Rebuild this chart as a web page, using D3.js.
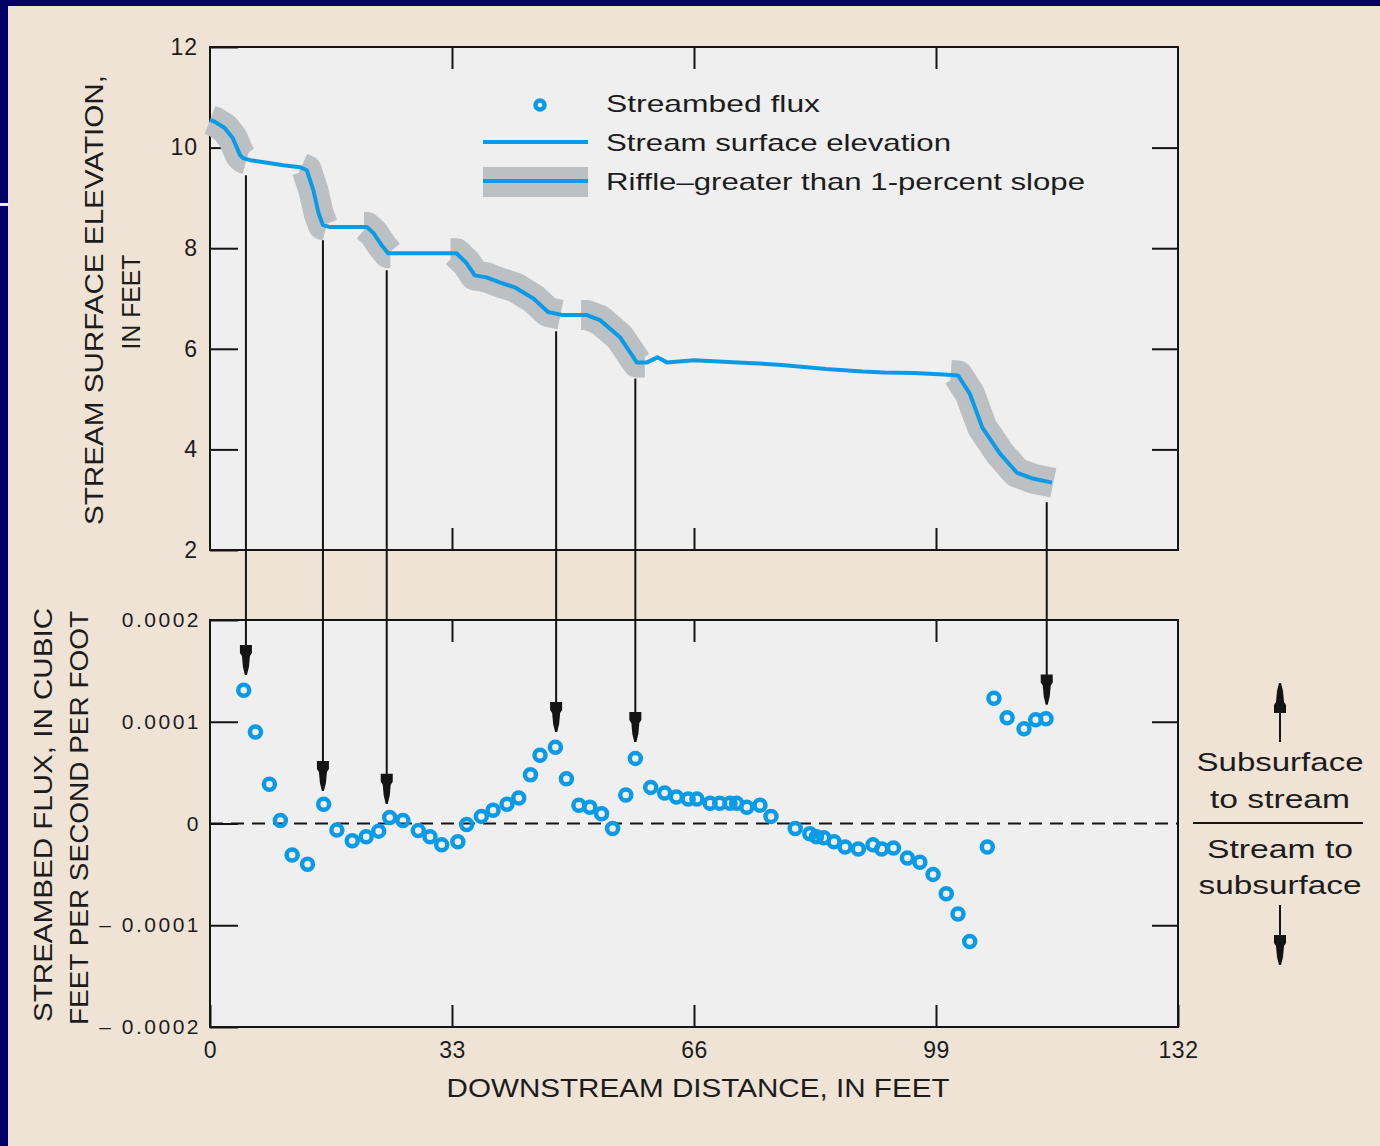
<!DOCTYPE html>
<html>
<head>
<meta charset="utf-8">
<script src="https://cdn.jsdelivr.net/npm/d3@7"></script>
<style>
  body { margin: 0; background: #efe3d6; }
  svg { display: block; }
  text { font-family: "Liberation Sans", Arial, sans-serif; fill: #1c1c1c; }
</style>
</head>
<body>
<svg id="chart" width="1380" height="1146"></svg>
<script>
// ---- Stream surface elevation profile (downstream distance in feet, elevation in feet)
const streamX = [0, 0.7, 2.0, 3.1, 4.1, 4.5, 5.5, 7.8, 10.0, 12.3, 13.2, 14.1, 14.8, 15.4, 16.4,
  21.4, 22.3, 23.4, 24.3, 33.6, 35.0, 36.1, 37.7, 39.5, 41.6, 44.1, 46.1, 48.1, 51.4, 53.2,
  55.9, 58.2, 59.6, 61.0, 62.3, 66, 72, 78, 84, 89, 92, 96, 100, 102.0, 103.6, 105.3, 107.7,
  110.0, 112.2, 114.8];
const streamElev = [10.55, 10.51, 10.39, 10.19, 9.85, 9.79, 9.75, 9.70, 9.65, 9.61, 9.55, 9.15, 8.70, 8.46, 8.42,
  8.42, 8.30, 8.06, 7.90, 7.90, 7.70, 7.46, 7.42, 7.32, 7.22, 7.00, 6.73, 6.67, 6.67, 6.57,
  6.23, 5.73, 5.73, 5.83, 5.73, 5.77, 5.73, 5.68, 5.60, 5.55, 5.53, 5.52, 5.49, 5.47, 5.11, 4.44, 3.92,
  3.54, 3.42, 3.34];

// ---- Riffle reaches (start, end in feet) with slope greater than 1 percent
const riffleStart = [0, 12.4, 21.0, 32.8, 50.6, 101.0];
const riffleEnd   = [5.0, 15.9, 24.6, 47.8, 59.3, 115.0];

// ---- Streambed flux (distance in feet, flux in 1e-4 cubic feet per second per foot)
const fluxX = [4.6, 6.2, 8.1, 9.6, 11.2, 13.3, 15.5, 17.3, 19.4, 21.3, 23.0, 24.5, 26.3, 28.4, 30.0,
  31.6, 33.8, 35.0, 37.0, 38.6, 40.5, 42.1, 43.7, 45.0, 47.1, 48.6, 50.3, 51.8, 53.4, 54.9,
  56.7, 58.0, 60.1, 62.0, 63.6, 65.2, 66.4, 68.2, 69.5, 70.9, 71.8, 73.2, 75.0, 76.5, 79.8,
  81.8, 82.7, 83.7, 85.1, 86.6, 88.4, 90.4, 91.6, 93.2, 95.1, 96.8, 98.6, 100.4, 102.0, 103.6,
  106.0, 106.9, 108.7, 111.0, 112.6, 114.0];
const fluxE4 = [1.31, 0.90, 0.385, 0.03, -0.31, -0.40, 0.19, -0.065, -0.17, -0.13, -0.075, 0.06, 0.03, -0.07, -0.13,
  -0.21, -0.18, -0.01, 0.07, 0.13, 0.19, 0.25, 0.48, 0.67, 0.75, 0.44, 0.18, 0.16, 0.095, -0.05,
  0.28, 0.64, 0.355, 0.30, 0.26, 0.24, 0.24, 0.20, 0.20, 0.20, 0.20, 0.16, 0.18, 0.07, -0.05,
  -0.10, -0.13, -0.14, -0.18, -0.23, -0.25, -0.21, -0.25, -0.24, -0.34, -0.38, -0.50, -0.69, -0.89, -1.16,
  -0.23, 1.23, 1.04, 0.93, 1.02, 1.03];

// ---- Connector arrows: riffle end (elevation) pointing to the flux peak below
const arrowX = [4.9, 15.4, 24.1, 47.2, 58.0, 114.1];
const arrowTopElev = [9.45, 8.16, 7.56, 6.35, 5.41, 2.95];
const arrowTipFluxE4 = [1.46, 0.32, 0.195, 0.90, 0.80, 1.17];

// ---- Tick values and labels
const distTicks = [0, 33, 66, 99, 132];
const elevTicks = [2, 4, 6, 8, 10, 12];
const fluxTicks = [-0.0002, -0.0001, 0, 0.0001, 0.0002];

const legendLabels = ["Streambed flux", "Stream surface elevation", "Riffle\u2013greater than 1-percent slope"];

const BLUE = "#0b9be6", GRAY = "#bcc0c3", INK = "#141414";

const svg = d3.select("#chart");

// page background and frame strips
svg.append("rect").attr("width", 1380).attr("height", 1146).attr("fill", "#efe3d6");
svg.append("rect").attr("x", 0).attr("y", 0).attr("width", 1380).attr("height", 6).attr("fill", "#000066");
svg.append("rect").attr("x", 0).attr("y", 0).attr("width", 8).attr("height", 1146).attr("fill", "#000066");
svg.append("rect").attr("x", 0).attr("y", 203).attr("width", 9).attr("height", 3).attr("fill", "#f1edc4");

// scales
const x = d3.scaleLinear().domain([0, 132]).range([210, 1178]);
const yTop = d3.scaleLinear().domain([2, 12]).range([550, 47]);
const yBot = d3.scaleLinear().domain([-0.0002, 0.0002]).range([1027, 620]);

// plot panels
function panel(y0, y1) {
  svg.append("rect").attr("x", x(0)).attr("y", y0).attr("width", x(132) - x(0)).attr("height", y1 - y0)
    .attr("fill", "#efefef");
}
panel(yTop(12), yTop(2));
panel(yBot(0.0002), yBot(-0.0002));

function styleAxis(size, spacing) {
  return g => {
    g.select(".domain").remove();
    g.selectAll(".tick line").attr("stroke", INK).attr("stroke-width", 2);
    g.selectAll(".tick text").style("font-size", size + "px").style("letter-spacing", spacing + "px")
      .style("font-family", "'Liberation Sans', Arial, sans-serif").attr("fill", "#1c1c1c");
  };
}

// ---- top panel axes
svg.append("g").attr("transform", `translate(${x(0)},0)`)
  .call(d3.axisLeft(yTop).tickValues(elevTicks).tickSize(-28).tickPadding(12).tickFormat(d3.format("d")))
  .call(styleAxis(23, 1));
svg.append("g").attr("transform", `translate(${x(132)},0)`)
  .call(d3.axisRight(yTop).tickValues([4, 6, 8, 10]).tickSize(-26).tickFormat(""))
  .call(styleAxis(22, 0));
svg.append("g").attr("transform", `translate(0,${yTop(12)})`)
  .call(d3.axisTop(x).tickValues([33, 66, 99]).tickSize(-22).tickFormat(""))
  .call(styleAxis(22, 0));
svg.append("g").attr("transform", `translate(0,${yTop(2)})`)
  .call(d3.axisBottom(x).tickValues([33, 66, 99]).tickSize(-22).tickFormat(""))
  .call(styleAxis(22, 0));

// ---- bottom panel axes
const fluxFmt = d => d === 0 ? "0" : (d < 0 ? "\u2013 " : "") + Math.abs(d).toFixed(4);
svg.append("g").attr("transform", `translate(${x(0)},0)`)
  .call(d3.axisLeft(yBot).tickValues(fluxTicks).tickSize(-28).tickPadding(9).tickFormat(fluxFmt))
  .call(styleAxis(21, 2.5));
svg.append("g").attr("transform", `translate(${x(132)},0)`)
  .call(d3.axisRight(yBot).tickValues([-0.0001, 0.0001]).tickSize(-26).tickFormat(""))
  .call(styleAxis(22, 0));
svg.append("g").attr("transform", `translate(0,${yBot(0.0002)})`)
  .call(d3.axisTop(x).tickValues([33, 66, 99]).tickSize(-22).tickFormat(""))
  .call(styleAxis(22, 0));
svg.append("g").attr("transform", `translate(0,${yBot(-0.0002)})`)
  .call(d3.axisBottom(x).tickValues(distTicks).tickSize(-22).tickPadding(15).tickFormat(d3.format("d")))
  .call(styleAxis(23, 0.5));

// panel frames
[[yTop(12), yTop(2)], [yBot(0.0002), yBot(-0.0002)]].forEach(([a, b]) => {
  svg.append("rect").attr("x", x(0)).attr("y", a).attr("width", x(132) - x(0)).attr("height", b - a)
    .attr("fill", "none").attr("stroke", INK).attr("stroke-width", 2);
});

// zero line in flux panel
svg.append("line").attr("x1", x(0)).attr("x2", x(132)).attr("y1", yBot(0)).attr("y2", yBot(0))
  .attr("stroke", INK).attr("stroke-width", 2).attr("stroke-dasharray", "13,8");

// ---- stream profile
const profile = streamX.map((d, i) => [d, streamElev[i]]);
const elevAt = d3.scaleLinear().domain(streamX).range(streamElev);
const lineTop = d3.line().x(d => x(d[0])).y(d => yTop(d[1]));

// riffle bands beneath the line
riffleStart.forEach((s, i) => {
  const e = riffleEnd[i];
  const pts = [[s, elevAt(s)], ...profile.filter(p => p[0] > s && p[0] < e), [e, elevAt(e)]];
  svg.append("path").attr("d", lineTop(pts))
    .style("fill", "none").style("stroke", GRAY).style("stroke-width", "30px")
    .style("stroke-linejoin", "round").style("stroke-linecap", "butt");
});

svg.append("path").attr("d", lineTop(profile)).attr("fill", "none")
  .attr("stroke", BLUE).attr("stroke-width", 4).attr("stroke-linejoin", "round");

// ---- connector arrows
function arrowHead(g, cx, tipY, dir) {
  // dir = 1 points down, -1 points up
  const shape = [[-6, -30], [6, -30], [6, -22], [4, -19], [3, -8], [1, 0], [-1, 0], [-3, -8], [-4, -19], [-6, -22]];
  g.append("polygon")
    .attr("points", shape.map(([px, py]) => `${cx + px},${tipY + dir * py}`).join(" "))
    .attr("fill", INK);
}
const arrowG = svg.append("g");
arrowX.forEach((ax, i) => {
  const y1 = yTop(arrowTopElev[i]);
  const y2 = yBot(arrowTipFluxE4[i] * 1e-4);
  arrowG.append("line").attr("x1", x(ax)).attr("x2", x(ax)).attr("y1", y1).attr("y2", y2)
    .attr("stroke", INK).attr("stroke-width", 2);
  arrowHead(arrowG, x(ax), y2, 1);
});

// ---- flux markers
svg.append("g").selectAll("circle").data(fluxX.map((d, i) => [d, fluxE4[i] * 1e-4]))
  .join("circle")
  .attr("cx", d => x(d[0])).attr("cy", d => yBot(d[1])).attr("r", 5.5)
  .attr("fill", "none").attr("stroke", BLUE).attr("stroke-width", 4.5);

// ---- legend
const lg = svg.append("g");
lg.append("circle").attr("cx", 540).attr("cy", 105).attr("r", 4.5)
  .attr("fill", "none").attr("stroke", BLUE).attr("stroke-width", 4.5);
lg.append("line").attr("x1", 483).attr("x2", 588).attr("y1", 142).attr("y2", 142)
  .attr("stroke", BLUE).attr("stroke-width", 4);
lg.append("rect").attr("x", 483).attr("y", 167).attr("width", 105).attr("height", 30).attr("fill", GRAY);
lg.append("line").attr("x1", 483).attr("x2", 588).attr("y1", 181).attr("y2", 181)
  .attr("stroke", BLUE).attr("stroke-width", 4);
const legendWidths = [214, 345, 479];
legendLabels.forEach((t, i) => {
  lg.append("text").attr("x", 606).attr("y", 112 + i * 39).style("font-size", "24px")
    .attr("textLength", legendWidths[i]).attr("lengthAdjust", "spacingAndGlyphs").text(t);
});

// ---- axis titles
function vtitle(t, bx, cy, len) {
  svg.append("text").attr("transform", `translate(${bx},${cy}) rotate(-90)`)
    .attr("text-anchor", "middle").style("font-size", "25px")
    .attr("textLength", len).attr("lengthAdjust", "spacingAndGlyphs").text(t);
}
vtitle("STREAM SURFACE ELEVATION,", 103, 300, 450);
vtitle("IN FEET", 140, 302, 95);
vtitle("STREAMBED FLUX, IN CUBIC", 52, 815, 414);
vtitle("FEET PER SECOND PER FOOT", 88, 818, 414);

svg.append("text").attr("x", 698).attr("y", 1097).attr("text-anchor", "middle").style("font-size", "25px")
  .attr("textLength", 503).attr("lengthAdjust", "spacingAndGlyphs").text("DOWNSTREAM DISTANCE, IN FEET");

// ---- direction key at right of flux panel
const key = svg.append("g");
key.append("line").attr("x1", 1280).attr("x2", 1280).attr("y1", 742).attr("y2", 685)
  .attr("stroke", INK).attr("stroke-width", 2);
arrowHead(key, 1280, 683, -1);
key.append("line").attr("x1", 1280).attr("x2", 1280).attr("y1", 905).attr("y2", 963)
  .attr("stroke", INK).attr("stroke-width", 2);
arrowHead(key, 1280, 965, 1);
key.append("line").attr("x1", 1193).attr("x2", 1363).attr("y1", 823).attr("y2", 823)
  .attr("stroke", INK).attr("stroke-width", 2);
[["Subsurface", 771, 167], ["to stream", 808, 140], ["Stream to", 858, 146], ["subsurface", 894, 163]]
  .forEach(([t, yy, w]) => {
    key.append("text").attr("x", 1280).attr("y", yy).attr("text-anchor", "middle").style("font-size", "26px")
      .attr("textLength", w).attr("lengthAdjust", "spacingAndGlyphs").text(t);
  });
</script>
</body>
</html>
